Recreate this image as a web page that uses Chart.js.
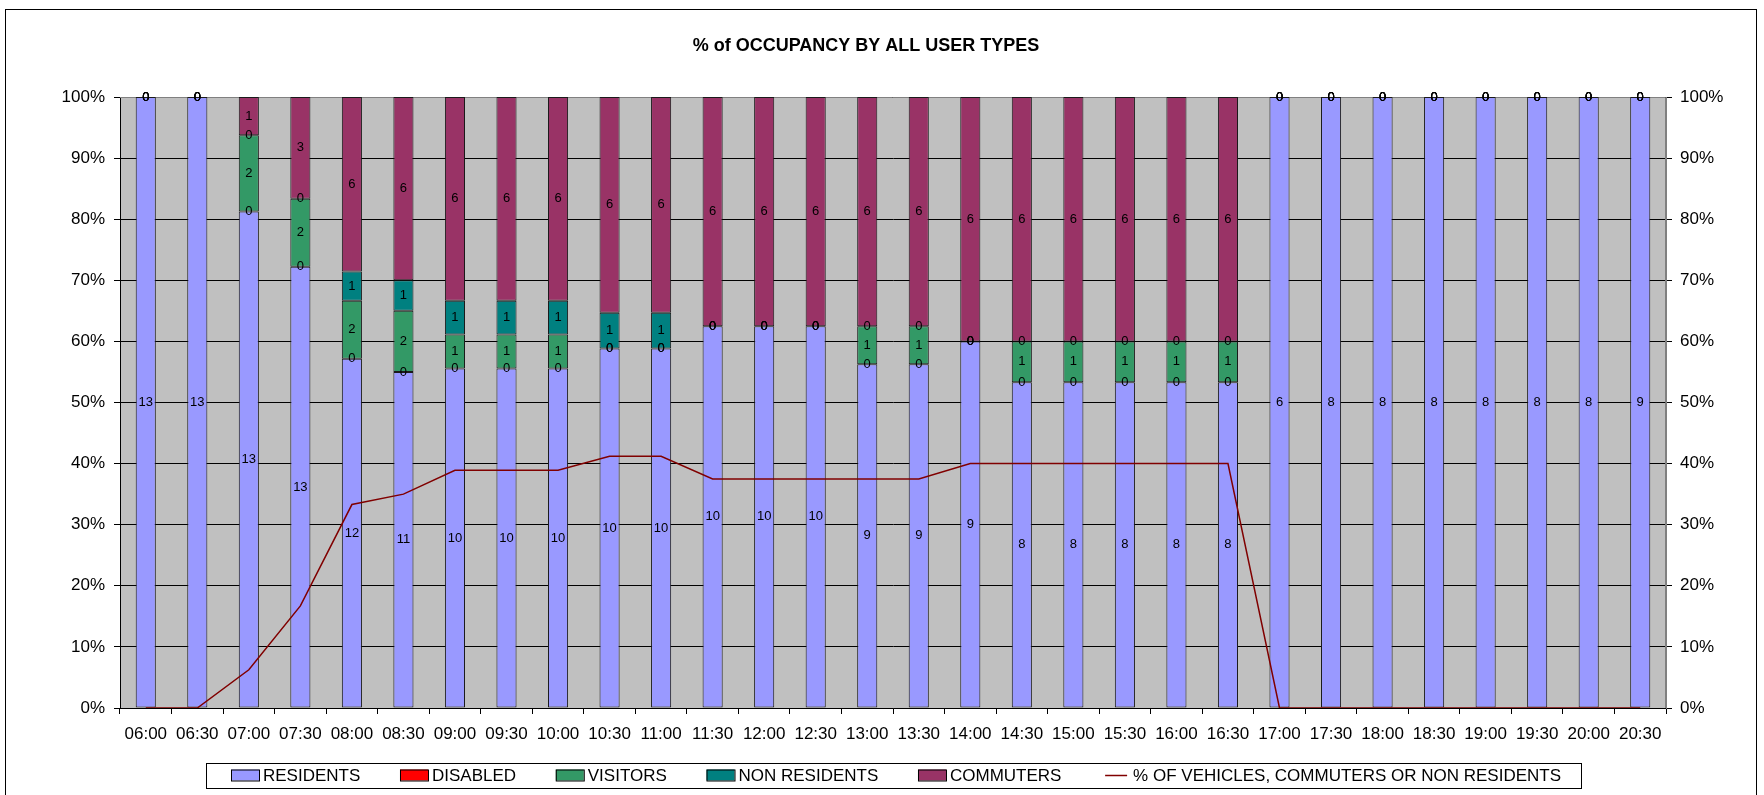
<!DOCTYPE html>
<html>
<head>
<meta charset="utf-8">
<title>% of OCCUPANCY BY ALL USER TYPES</title>
<script src="https://cdn.jsdelivr.net/npm/chart.js@4.4.0/dist/chart.umd.min.js"></script>
<style>
  html, body { margin: 0; padding: 0; background: #fff; }
</style>
</head>
<body>
<canvas id="occupancy" width="1764" height="795"></canvas>
<script>
(function () {
  'use strict';

  const TIMES = ['06:00', '06:30', '07:00', '07:30', '08:00', '08:30', '09:00', '09:30', '10:00', '10:30',
    '11:00', '11:30', '12:00', '12:30', '13:00', '13:30', '14:00', '14:30', '15:00', '15:30',
    '16:00', '16:30', '17:00', '17:30', '18:00', '18:30', '19:00', '19:30', '20:00', '20:30'];

  // vehicle counts
  const RESIDENTS =     [13, 13, 13, 13, 12, 11, 10, 10, 10, 10, 10, 10, 10, 10, 9, 9, 9, 8, 8, 8, 8, 8, 6, 8, 8, 8, 8, 8, 8, 9];
  const DISABLED =      [0, 0, 0, 0, 0, 0, 0, 0, 0, 0, 0, 0, 0, 0, 0, 0, 0, 0, 0, 0, 0, 0, 0, 0, 0, 0, 0, 0, 0, 0];
  const VISITORS =      [0, 0, 2, 2, 2, 2, 1, 1, 1, 0, 0, 0, 0, 0, 1, 1, 0, 1, 1, 1, 1, 1, 0, 0, 0, 0, 0, 0, 0, 0];
  const NON_RESIDENTS = [0, 0, 0, 0, 1, 1, 1, 1, 1, 1, 1, 0, 0, 0, 0, 0, 0, 0, 0, 0, 0, 0, 0, 0, 0, 0, 0, 0, 0, 0];
  const COMMUTERS =     [0, 0, 1, 3, 6, 6, 6, 6, 6, 6, 6, 6, 6, 6, 6, 6, 6, 6, 6, 6, 6, 6, 0, 0, 0, 0, 0, 0, 0, 0];

  // % of vehicles that are commuters or non residents (line)
  const COMMUTER_SHARE = [0, 0, 6.25, 16.7, 33.3, 35, 38.9, 38.9, 38.9, 41.2, 41.2, 37.5, 37.5, 37.5, 37.5, 37.5,
    40, 40, 40, 40, 40, 40, 0, 0, 0, 0, 0, 0, 0, 0];

  const Y_TICKS = [0, 10, 20, 30, 40, 50, 60, 70, 80, 90, 100];

  const FONT = '"Liberation Sans", Arial, Helvetica, sans-serif';

  const COLORS = {
    residents: '#9999FF',
    disabled: '#FF0000',
    visitors: '#339966',
    nonResidents: '#008080',
    commuters: '#993366',
    line: '#800000',
    plot: '#C0C0C0'
  };

  const totals = TIMES.map((t, i) => RESIDENTS[i] + DISABLED[i] + VISITORS[i] + NON_RESIDENTS[i] + COMMUTERS[i]);
  const toPct = arr => arr.map((v, i) => totals[i] ? v / totals[i] * 100 : 0);

  function barSet(label, counts, color) {
    return {
      type: 'bar',
      label: label,
      data: toPct(counts),
      counts: counts,
      backgroundColor: color,
      borderColor: '#1a1a1a',
      borderWidth: 1,
      borderSkipped: false,
      barPercentage: 0.39,
      categoryPercentage: 1.0,
      yAxisID: 'y',
      order: 2
    };
  }

  const backdrop = {
    id: 'backdrop',
    beforeDraw(chart) {
      const ctx = chart.ctx, a = chart.chartArea;
      ctx.save();
      ctx.fillStyle = '#fff';
      ctx.fillRect(0, 0, chart.width, chart.height);
      ctx.strokeStyle = '#000';
      ctx.lineWidth = 1;
      ctx.strokeRect(5.5, 9.5, 1751, 820);
      ctx.fillStyle = COLORS.plot;
      ctx.fillRect(a.left, a.top, a.right - a.left, a.bottom - a.top);
      ctx.fillStyle = '#000';
      ctx.font = 'bold 18px ' + FONT;
      ctx.textAlign = 'center';
      ctx.textBaseline = 'middle';
      ctx.fillText('% of OCCUPANCY BY ALL USER TYPES', 866, 46);
      ctx.restore();
    },
    beforeDatasetsDraw(chart) {
      const ctx = chart.ctx, a = chart.chartArea;
      ctx.save();
      ctx.strokeStyle = '#808080';
      ctx.lineWidth = 1;
      ctx.beginPath();
      ctx.moveTo(a.left, a.top + 0.5);
      ctx.lineTo(a.right - 0.5, a.top + 0.5);
      ctx.lineTo(a.right - 0.5, a.bottom);
      ctx.stroke();
      ctx.restore();
    }
  };

  const segmentLabels = {
    id: 'segmentLabels',
    afterDatasetsDraw(chart) {
      const ctx = chart.ctx;
      ctx.save();
      ctx.font = '13px ' + FONT;
      ctx.fillStyle = '#000';
      ctx.textAlign = 'center';
      ctx.textBaseline = 'middle';
      chart.data.datasets.forEach((ds, i) => {
        if (!ds.counts) return;
        chart.getDatasetMeta(i).data.forEach((bar, j) => {
          ctx.fillText(String(ds.counts[j]), bar.x, (bar.y + bar.base) / 2);
        });
      });
      ctx.restore();
    }
  };

  const boxedLegend = {
    id: 'boxedLegend',
    afterDraw(chart) {
      const ctx = chart.ctx;
      const box = { left: 206, top: 763, right: 1581, bottom: 788 };
      const innerLeft = 231, innerRight = 1561;
      const swatch = 28, gapText = 4;
      const cy = (box.top + box.bottom) / 2;
      ctx.save();
      ctx.strokeStyle = '#000';
      ctx.lineWidth = 1;
      ctx.strokeRect(box.left + 0.5, box.top + 0.5, box.right - box.left, box.bottom - box.top);
      ctx.font = '17px ' + FONT;
      ctx.textBaseline = 'middle';
      ctx.textAlign = 'left';
      const items = chart.data.datasets.map(ds => ({
        text: ds.label,
        color: ds.type === 'line' ? ds.borderColor : ds.backgroundColor,
        isLine: ds.type === 'line',
        w: swatch + gapText + ctx.measureText(ds.label).width
      }));
      const used = items.reduce((s, it) => s + it.w, 0);
      const gap = (innerRight - innerLeft - used) / (items.length - 1);
      let x = innerLeft;
      items.forEach(it => {
        if (it.isLine) {
          ctx.strokeStyle = it.color;
          ctx.lineWidth = 1.5;
          ctx.beginPath();
          ctx.moveTo(x + 4, cy);
          ctx.lineTo(x + swatch - 2, cy);
          ctx.stroke();
        } else {
          ctx.fillStyle = it.color;
          ctx.fillRect(x, cy - 6, swatch, 11);
          ctx.strokeStyle = '#000';
          ctx.lineWidth = 1;
          ctx.strokeRect(x + 0.5, cy - 5.5, swatch, 11);
        }
        ctx.fillStyle = '#000';
        ctx.fillText(it.text, x + swatch + gapText, cy + 1);
        x += it.w + gap;
      });
      ctx.restore();
    }
  };

  const pctTicks = {
    color: '#000',
    font: { family: FONT, size: 17 },
    stepSize: 10,
    callback: v => v + '%'
  };

  new Chart(document.getElementById('occupancy').getContext('2d'), {
    data: {
      labels: TIMES,
      datasets: [
        barSet('RESIDENTS', RESIDENTS, COLORS.residents),
        barSet('DISABLED', DISABLED, COLORS.disabled),
        barSet('VISITORS', VISITORS, COLORS.visitors),
        barSet('NON RESIDENTS', NON_RESIDENTS, COLORS.nonResidents),
        barSet('COMMUTERS', COMMUTERS, COLORS.commuters),
        {
          type: 'line',
          label: '% OF VEHICLES, COMMUTERS OR NON RESIDENTS',
          data: COMMUTER_SHARE,
          borderColor: COLORS.line,
          backgroundColor: COLORS.line,
          borderWidth: 1.5,
          pointRadius: 0,
          tension: 0,
          fill: false,
          yAxisID: 'y2',
          order: 1
        }
      ]
    },
    options: {
      responsive: false,
      animation: false,
      devicePixelRatio: 1,
      layout: { padding: { top: 97, bottom: 42, left: 0, right: 0 } },
      plugins: {
        legend: { display: false },
        title: { display: false },
        tooltip: { enabled: false }
      },
      scales: {
        x: {
          stacked: true,
          offset: true,
          grid: { display: true, offset: true, drawOnChartArea: false, drawTicks: true, tickLength: 6, color: '#000' },
          border: { display: true, color: '#000' },
          ticks: { color: '#000', font: { family: FONT, size: 17 }, autoSkip: false, maxRotation: 0, minRotation: 0, padding: 10 },
          afterFit: s => { s.height = 45; }
        },
        y: {
          stacked: true,
          min: 0,
          max: 100,
          afterBuildTicks: s => { s.ticks = Y_TICKS.map(v => ({ value: v })); },
          grid: { color: '#000', lineWidth: 1, drawTicks: true, tickLength: 6 },
          border: { display: true, color: '#000' },
          ticks: Object.assign({ padding: 9 }, pctTicks),
          afterFit: s => { s.width = 120; }
        },
        y2: {
          position: 'right',
          min: 0,
          max: 100,
          afterBuildTicks: s => { s.ticks = Y_TICKS.map(v => ({ value: v })); },
          grid: { drawOnChartArea: false, drawTicks: true, tickLength: 6, color: '#000' },
          border: { display: true, color: '#808080' },
          ticks: Object.assign({ padding: 8 }, pctTicks),
          afterFit: s => { s.width = 98; }
        }
      }
    },
    plugins: [backdrop, segmentLabels, boxedLegend]
  });
})();
</script>
</body>
</html>
